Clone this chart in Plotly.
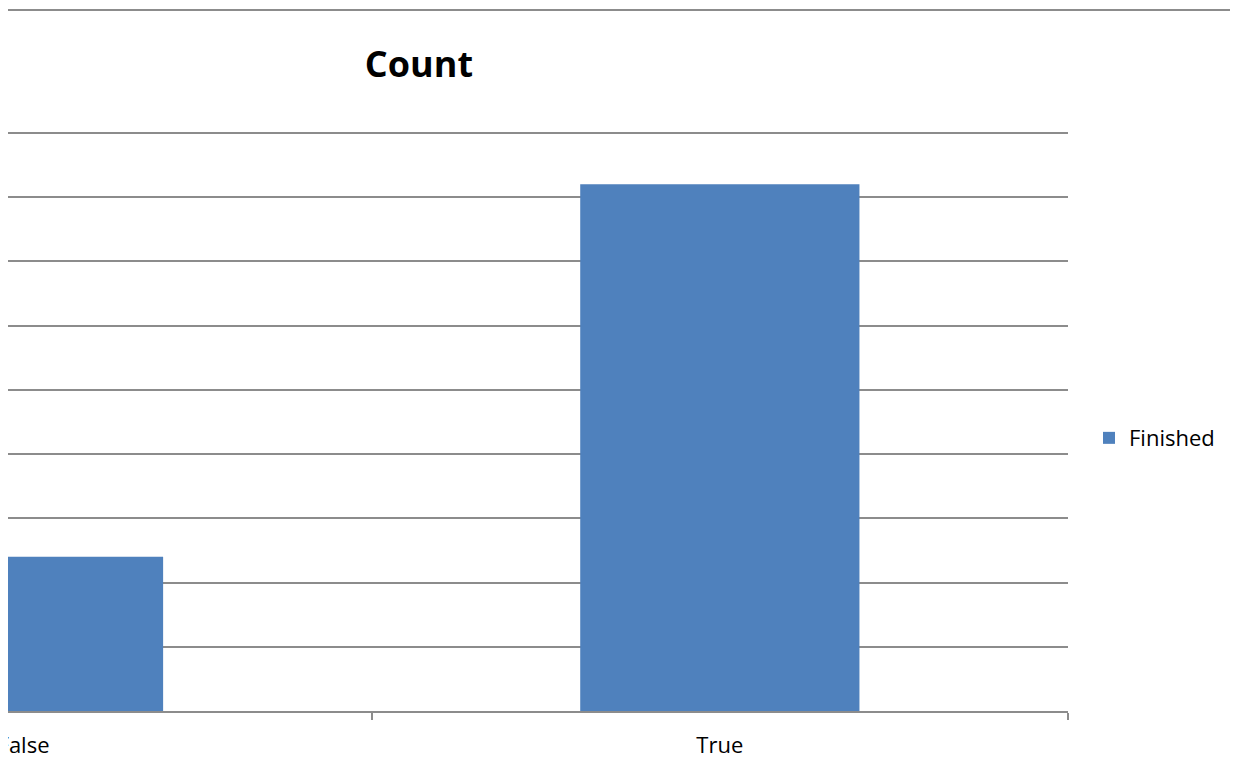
import plotly.graph_objects as go

# data (y tick labels are cropped in the reference, step assumed 10)
categories = ["False", "True"]
finished_counts = [24, 82]
y_max = 90.3
y_step = 10

fig = go.Figure()

# bars
fig.add_trace(go.Bar(x=categories, y=finished_counts, name="Finished",
                     marker=dict(color="#4F81BD", line=dict(width=0)),
                     width=0.401))

grid_col = "#8c8c8c"

# page body has an 8px margin, so figure is 8px smaller than the window
# left side of the chart is cut off like in the original screenshot
fig.update_layout(
    width=1230, height=773,
    margin=dict(l=0, r=170, t=123, b=70, autoexpand=False),
    paper_bgcolor="white", plot_bgcolor="white",
    font=dict(family="Open Sans", size=22, color="black"),
    title=dict(text="<b>Count</b>", x=0.3877, xref="paper", xanchor="center",
               y=1 - 56 / 773, yanchor="middle",
               font=dict(family="Open Sans", size=36, color="black")),
    showlegend=True,
    legend=dict(x=1.0198, xanchor="left", y=0.4706, yanchor="middle",
                bgcolor="rgba(0,0,0,0)", font=dict(size=22), itemwidth=30),
    bargap=0.6,
)

fig.update_xaxes(range=[-0.02227, 1.5], type="category", automargin=False,
                 showline=True, linecolor=grid_col, linewidth=2,
                 ticks="outside", tickson="boundaries", ticklen=7,
                 tickcolor=grid_col, tickwidth=2,
                 showgrid=False, ticklabelstandoff=14)
fig.update_yaxes(range=[0, y_max], dtick=y_step, showticklabels=False,
                 automargin=False,
                 showgrid=True, gridcolor=grid_col, gridwidth=2,
                 zeroline=False, showline=False, ticks="")

# thin border line across the top of the screenshot (runs off the right edge)
fig.add_shape(type="line", xref="paper", yref="paper",
              x0=0, x1=1.2, y0=(703 - 2) / 580, y1=(703 - 2) / 580,
              line=dict(color=grid_col, width=2))

fig.write_html("out.html")
